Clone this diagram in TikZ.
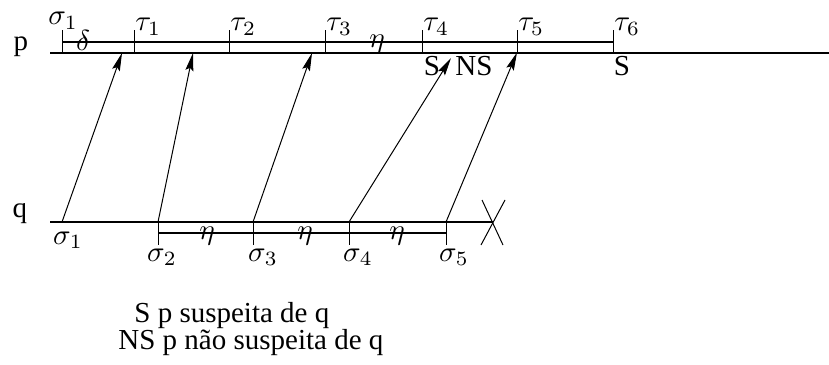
\documentclass[tikz,border=0pt]{standalone}
\usepackage{graphicx}
\usepackage{fontspec}
\setmainfont{Liberation Serif}
\usetikzlibrary{arrows.meta,positioning}
\newcommand{\lbl}[1]{\scalebox{1.45}{$#1$}}

\begin{document}
\begin{tikzpicture}[x=0.5pt,y=-0.5pt,>={Stealth[length=9pt,width=4pt,inset=1.5pt]},
  ln/.style={line width=1pt},
  tk/.style={line width=0.5pt},
  lb/.style={inner sep=0pt},
  tx/.style={font=\fontsize{14.5}{13.5}\selectfont,inner sep=0pt},
  msg/.style={->,line width=0.5pt}]
\useasboundingbox (0,0) rectangle (829,364);
% process p
\node[tx] (p) at (21,47) {p};
\draw[ln] (50,52.5) coordinate (p0) -- (829,52.5) coordinate (p1);
\draw[ln] (62,41.5) -- (613,41.5);
\foreach \n/\x in {s0/62,t1/134,t2/229,t3/325,t4/422,t5/517,t6/613}{
  \coordinate (\n) at (\x,52.5);
  \draw[tk] (\x,30) -- (\n);
}
\node[lb,anchor=base west] (ls0) at (48,25) {\lbl{\sigma_1}};
\node[lb] (dl) at (83,40) {\lbl{\delta}};
\foreach \i/\x in {1/134,2/229,3/325,4/422,5/517,6/613}
  \node[lb,anchor=base west] (lt\i) at (\x+1,31) {\lbl{\tau_{\i}}};
\node[lb] (e0) at (377,44) {\lbl{\eta}};
\node[tx] (sa) at (432,66) {S};
\node[tx] (ns) at (474,66) {NS};
\node[tx] (sb) at (622,66) {S};
% process q
\node[tx] (q) at (20,214) {q};
\coordinate (x) at (493,222);
\draw[ln] (50,222) coordinate (q0) -- (x);
\draw[tk] (x) ++(-12,23) -- ++(24,-45);
\draw[tk] (x) ++(-11,-22) -- ++(21,45);
\draw[ln] (158,233) -- (446,233);
\coordinate (s1) at (62,222);
\foreach \n/\x in {s2/158,s3/253,s4/349,s5/446}{
  \coordinate (\n) at (\x,222);
  \draw[tk] (\n) -- (\x,245);
}
\node[lb] (ls1) at (68,240) {\lbl{\sigma_1}};
\foreach \i/\x in {2/162,3/263,4/358,5/454}
  \node[lb] (ls\i) at (\x,257) {\lbl{\sigma_{\i}}};
\foreach \i/\x in {1/207,2/305,3/397}
  \node[lb] (e\i) at (\x,236) {\lbl{\eta}};
% messages q -> p
\coordinate (a1) at (122,53);
\coordinate (a2) at (193,53);
\coordinate (a3) at (312,53);
\coordinate (a4) at (451,58);
\draw[msg] (s1) -- (a1);
\draw[msg] (s2) -- (a2);
\draw[msg] (s3) -- (a3);
\draw[msg] (s4) -- (a4);
\draw[msg] (s5) -- (t5);
% legend
\node[tx,align=left,anchor=north west] (leg) at (134,302)
  {S p suspeita de q\\\hspace*{-8pt}NS p não suspeita de q};
\end{tikzpicture}
\end{document}
